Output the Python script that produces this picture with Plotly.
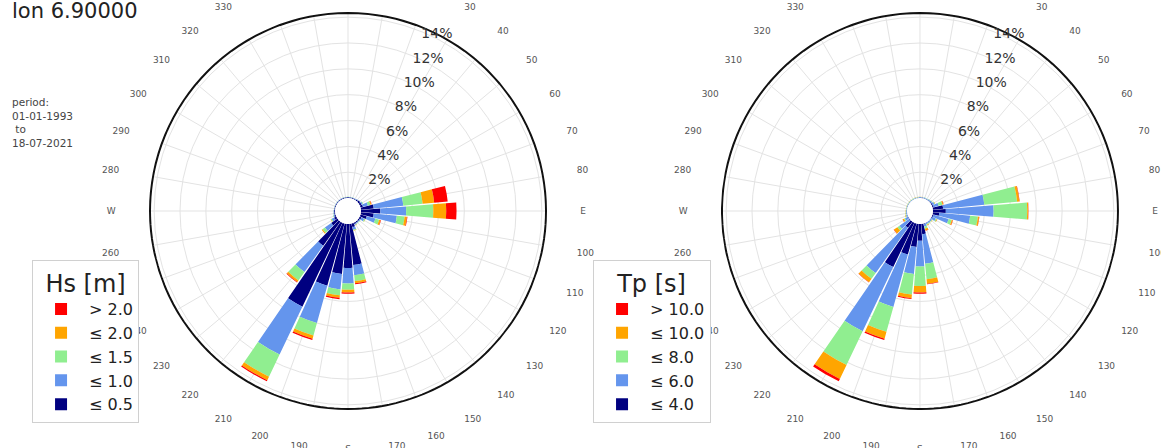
import plotly.graph_objects as go

# ---------------- data ----------------
directions = list(range(0, 360, 10))
dir_labels = ["N" if d == 0 else "E" if d == 90 else "S" if d == 180 else "W" if d == 270 else str(d)
              for d in directions]
pct_ticks = [2, 4, 6, 8, 10, 12, 14]
pct_labels = ["2%", "4%", "6%", "8%", "10%", "12%", "14%"]
r_max = 14.4

colors = ["#000080", "#6495ed", "#90ee90", "#ffa500", "#ff0000"]

# Hs [m] classes (frequency in % per 10-degree sector, 0..350 deg)
hs_labels = ["≤ 0.5", "≤ 1.0", "≤ 1.5", "≤ 2.0", "> 2.0"]
hs_le05 = [0.06, 0.06, 0.06, 0.06, 0.1, 0.15, 0.15, 0.2, 1.0, 1.5, 1.0, 0.5, 0.15, 0.1, 0.1, 0.12, 0.3, 3.2,
           3.4, 3.9, 5.0, 7.2, 2.3, 0.6, 0.2, 0.1, 0.08, 0.07, 0.06, 0.06, 0.06, 0.06, 0.06, 0.06, 0.06, 0.06]
hs_le10 = [0.03, 0.03, 0.03, 0.03, 0.04, 0.04, 0.1, 0.4, 2.3, 2.0, 1.8, 0.7, 0.25, 0.07, 0.07, 0.08, 0.2, 0.8,
           1.2, 1.2, 3.0, 4.1, 2.5, 0.6, 0.2, 0.07, 0.05, 0.04, 0.03, 0.03, 0.03, 0.03, 0.03, 0.03, 0.03, 0.03]
hs_le15 = [0.01, 0.01, 0.01, 0.01, 0.01, 0.01, 0.05, 0.2, 1.5, 2.1, 0.6, 0.3, 0.08, 0.03, 0.03, 0.03, 0.07, 0.45,
           0.5, 0.45, 1.0, 1.9, 0.8, 0.22, 0.07, 0.03, 0.02, 0.01, 0.01, 0.01, 0.01, 0.01, 0.01, 0.01, 0.01, 0.01]
hs_le20 = [0, 0, 0, 0, 0, 0, 0, 0.08, 0.9, 1.0, 0.18, 0.12, 0.02, 0, 0, 0.02, 0.03, 0.17,
           0.2, 0.2, 0.25, 0.3, 0.15, 0.08, 0.03, 0, 0, 0, 0, 0, 0, 0, 0, 0, 0, 0]
hs_gt20 = [0, 0, 0, 0, 0, 0, 0, 0.02, 1.05, 0.8, 0.04, 0.03, 0, 0, 0, 0, 0, 0.08,
           0.1, 0.1, 0.1, 0.1, 0.05, 0, 0, 0, 0, 0, 0, 0, 0, 0, 0, 0, 0, 0]

# Tp [s] classes
tp_labels = ["≤ 4.0", "≤ 6.0", "≤ 8.0", "≤ 10.0", "> 10.0"]
tp_le4 = [0.03, 0.03, 0.03, 0.03, 0.04, 0.05, 0.08, 0.1, 0.8, 1.0, 0.5, 0.1, 0.05, 0.03, 0.03, 0.03, 0.05, 0.8,
          1.3, 1.8, 2.5, 3.8, 0.6, 0.05, 0.03, 0.02, 0.02, 0.02, 0.01, 0.01, 0.01, 0.01, 0.01, 0.01, 0.01, 0.01]
tp_le6 = [0.05, 0.05, 0.05, 0.05, 0.07, 0.1, 0.15, 0.4, 3.2, 3.7, 2.4, 1.2, 0.3, 0.1, 0.1, 0.1, 0.2, 2.3,
          2.0, 2.1, 4.2, 5.5, 4.3, 0.9, 0.25, 0.1, 0.07, 0.05, 0.05, 0.05, 0.05, 0.05, 0.05, 0.05, 0.05, 0.05]
tp_le8 = [0.015, 0.015, 0.015, 0.015, 0.03, 0.04, 0.05, 0.3, 2.55, 2.6, 0.6, 0.25, 0.1, 0.05, 0.05, 0.06, 0.17, 1.2,
          1.5, 1.6, 2.0, 2.9, 0.55, 0.2, 0.1, 0.05, 0.04, 0.03, 0.03, 0.03, 0.03, 0.03, 0.03, 0.03, 0.03, 0.03]
tp_le10 = [0.005, 0.005, 0.005, 0.005, 0.01, 0.01, 0.02, 0.08, 0.17, 0.08, 0.1, 0.08, 0.04, 0.02, 0.02, 0.05, 0.16, 0.35,
           0.5, 0.28, 0.55, 1.2, 0.33, 0.33, 0.1, 0.03, 0.02, 0.02, 0.01, 0.01, 0.01, 0.01, 0.01, 0.01, 0.01, 0.01]
tp_gt10 = [0, 0, 0, 0, 0, 0, 0, 0.02, 0.03, 0.02, 0.02, 0.02, 0.01, 0, 0, 0.01, 0.02, 0.05,
           0.1, 0.07, 0.1, 0.2, 0.02, 0.02, 0.02, 0, 0, 0, 0, 0, 0, 0, 0, 0, 0, 0]

hs_series = [hs_le05, hs_le10, hs_le15, hs_le20, hs_gt20]
tp_series = [tp_le4, tp_le6, tp_le8, tp_le10, tp_gt10]

FONT = "DejaVu Sans"

fig = go.Figure()
for vals, name, col in zip(hs_series, hs_labels, colors):
    fig.add_trace(go.Barpolar(r=vals, theta=directions, width=9, name=name,
                              marker=dict(color=col, line=dict(width=0)),
                              subplot="polar", legend="legend"))
for vals, name, col in zip(tp_series, tp_labels, colors):
    fig.add_trace(go.Barpolar(r=vals, theta=directions, width=9, name=name,
                              marker=dict(color=col, line=dict(width=0)),
                              subplot="polar2", legend="legend2"))

# outer frame circle of each rose (at the radial axis maximum)
frame_theta = list(range(0, 361, 2))
for sp in ["polar", "polar2"]:
    fig.add_trace(go.Scatterpolar(r=[r_max] * len(frame_theta), theta=frame_theta, mode="lines",
                                  line=dict(color="#111", width=4), cliponaxis=False,
                                  showlegend=False, hoverinfo="skip", subplot=sp))


def polar_cfg(xdom):
    return dict(
        domain=dict(x=xdom, y=[0.0848, 0.9732]),
        bgcolor="white",
        barmode="stack",
        hole=0.065,
        angularaxis=dict(direction="clockwise", rotation=90, tickmode="array",
                         tickvals=directions, ticktext=dir_labels,
                         ticks="outside", ticklen=31, tickcolor="rgba(0,0,0,0)",
                         tickfont=dict(size=9, color="#555", family=FONT),
                         showline=False,
                         showgrid=True, gridcolor="#e3e3e3", gridwidth=1),
        radialaxis=dict(range=[0, r_max], tickmode="array", tickvals=pct_ticks,
                        ticktext=pct_labels, angle=70, tickangle=70, showline=False, ticks="",
                        tickfont=dict(size=14, color="#333", family=FONT),
                        showgrid=True, gridcolor="#e3e3e3", gridwidth=1),
    )


legend_common = dict(
    yanchor="top", xanchor="left", y=0.42,
    bgcolor="white", bordercolor="#d0d0d0", borderwidth=1,
    font=dict(size=16, color="#222", family=FONT),
    traceorder="reversed", itemwidth=46,
)

fig.update_layout(
    width=1161, height=448,
    margin=dict(l=0, r=0, t=0, b=0),
    paper_bgcolor="white", plot_bgcolor="white",
    font=dict(family=FONT),
    polar=polar_cfg([0.1283, 0.4712]),
    polar2=polar_cfg([0.6210, 0.9638]),
    legend=dict(x=0.0276, title=dict(text="Hs [m]", side="top center",
                                     font=dict(size=24, color="#222", family=FONT)),
                **legend_common),
    legend2=dict(x=0.5108, title=dict(text="Tp [s]", side="top center",
                                      font=dict(size=24, color="#222", family=FONT)),
                 **legend_common),
    annotations=[
        dict(text="lon 6.90000", x=0.009, y=1.0, xref="paper", yref="paper",
             xanchor="left", yanchor="top", yshift=3, showarrow=False,
             font=dict(size=21, color="#222", family=FONT)),
        dict(text="period:<br>01-01-1993<br> to<br>18-07-2021", x=0.009, y=0.79,
             xref="paper", yref="paper", xanchor="left", yanchor="top", align="left",
             showarrow=False, font=dict(size=10.5, color="#444", family=FONT)),
    ],
)

fig.write_html("out.html")
